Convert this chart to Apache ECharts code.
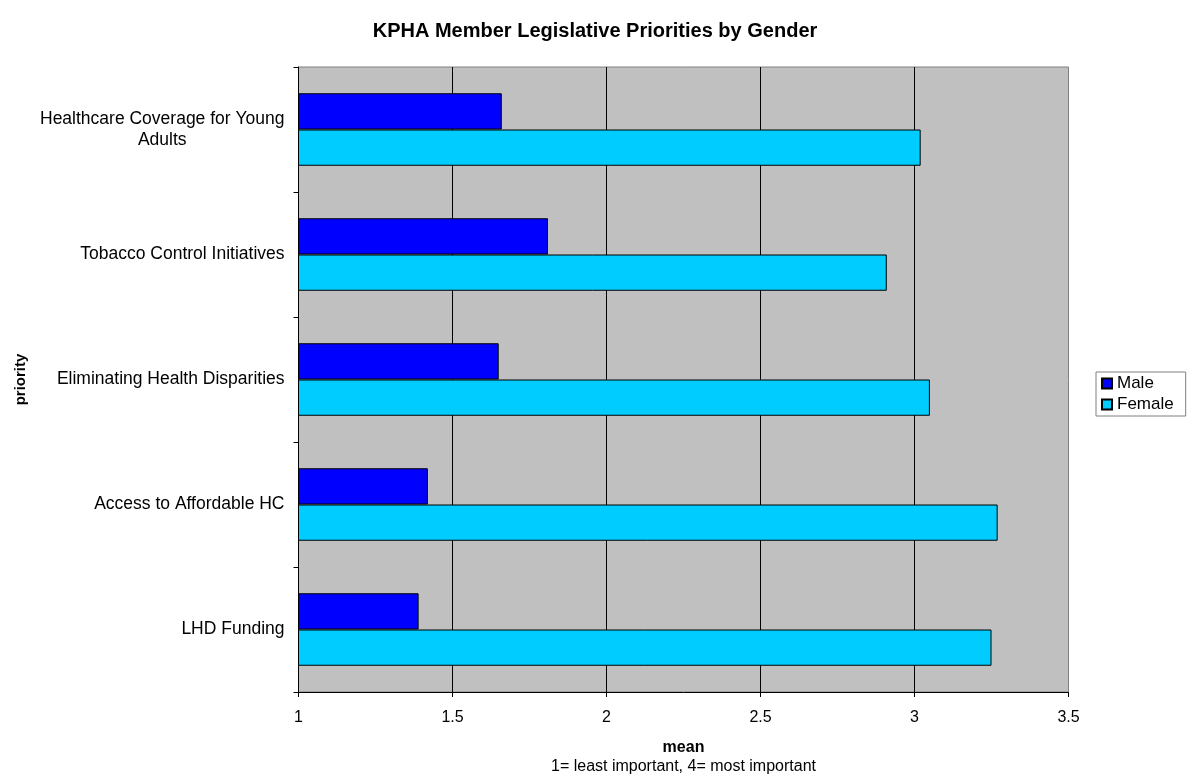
<!DOCTYPE html>
<html>
<head>
<meta charset="utf-8">
<script src="https://cdn.jsdelivr.net/npm/echarts@6/dist/echarts.min.js"></script>
<style>
  html, body { margin: 0; padding: 0; background: #ffffff; }
  #chart { width: 1190px; height: 783px; }
</style>
</head>
<body>
<div id="chart"></div>
<script>
// Priorities listed top to bottom
const priorities = [
  'Healthcare Coverage for Young\nAdults',
  'Tobacco Control Initiatives',
  'Eliminating Health Disparities',
  'Access to Affordable HC',
  'LHD Funding'
];
const maleMeans = [1.66, 1.81, 1.65, 1.42, 1.39];
const femaleMeans = [3.02, 2.91, 3.05, 3.27, 3.25];
const seriesNames = ['Male', 'Female'];
const seriesColors = ['#0000FF', '#00CCFF'];

const font = 'Arial, "Liberation Sans", sans-serif';

const chart = echarts.init(document.getElementById('chart'), null, { renderer: 'canvas' });

chart.setOption({
  animation: false,
  backgroundColor: '#ffffff',
  textStyle: { fontFamily: font, color: '#000' },
  title: {
    text: 'KPHA Member Legislative Priorities by Gender',
    left: 'center',
    top: 16,
    textStyle: { fontFamily: font, fontSize: 20, fontWeight: 'bold', color: '#000' }
  },
  legend: {
    orient: 'vertical',
    left: 1096,
    top: 372,
    data: seriesNames,
    itemWidth: 10,
    itemHeight: 10,
    itemGap: 4,
    padding: [3, 12, 3, 5],
    backgroundColor: '#ffffff',
    borderColor: '#808080',
    borderWidth: 1,
    borderRadius: 0,
    icon: 'rect',
    textStyle: { fontFamily: font, fontSize: 17, color: '#000' }
  },
  grid: {
    left: 298.5,
    right: 121.5,
    top: 67,
    bottom: 91,
    show: true,
    backgroundColor: '#C0C0C0',
    borderColor: '#808080',
    borderWidth: 1
  },
  xAxis: {
    type: 'value',
    min: 1,
    max: 3.5,
    interval: 0.5,
    name: '{b|mean}\n{n|1= least important, 4= most important}',
    nameLocation: 'middle',
    nameGap: 46,
    nameTextStyle: {
      rich: {
        b: { fontFamily: font, fontSize: 16, fontWeight: 'bold', color: '#000', lineHeight: 19 },
        n: { fontFamily: font, fontSize: 16, color: '#000', lineHeight: 19 }
      }
    },
    axisLine: { show: true, lineStyle: { color: '#000', width: 1 } },
    axisTick: { show: true, length: 5, lineStyle: { color: '#000' } },
    axisLabel: { fontFamily: font, fontSize: 16, color: '#000', margin: 18 },
    splitLine: { show: true, showMinLine: false, showMaxLine: false, lineStyle: { color: '#000', width: 1 } }
  },
  yAxis: {
    type: 'category',
    inverse: true,
    data: priorities,
    name: 'priority',
    nameLocation: 'middle',
    nameGap: 270,
    nameTextStyle: { fontFamily: font, fontSize: 15, fontWeight: 'bold', color: '#000' },
    axisLine: { show: true, lineStyle: { color: '#000', width: 1 } },
    axisTick: { show: true, length: 5, alignWithLabel: false, lineStyle: { color: '#000' } },
    axisLabel: {
      margin: 14,
      // each line is centred within the label block
      formatter: function (value) {
        return value.split('\n').map(function (line) { return '{c|' + line + '}'; }).join('\n');
      },
      rich: {
        c: { fontFamily: font, fontSize: 17.5, color: '#000', align: 'center', lineHeight: 21 }
      }
    },
    splitLine: { show: false }
  },
  series: [
    {
      name: seriesNames[0],
      type: 'bar',
      data: maleMeans,
      barGap: '0%',
      barCategoryGap: '42%',
      itemStyle: { color: seriesColors[0], borderColor: '#000', borderWidth: 1 }
    },
    {
      name: seriesNames[1],
      type: 'bar',
      data: femaleMeans,
      barGap: '0%',
      barCategoryGap: '42%',
      itemStyle: { color: seriesColors[1], borderColor: '#000', borderWidth: 1 }
    }
  ]
});
</script>
</body>
</html>
